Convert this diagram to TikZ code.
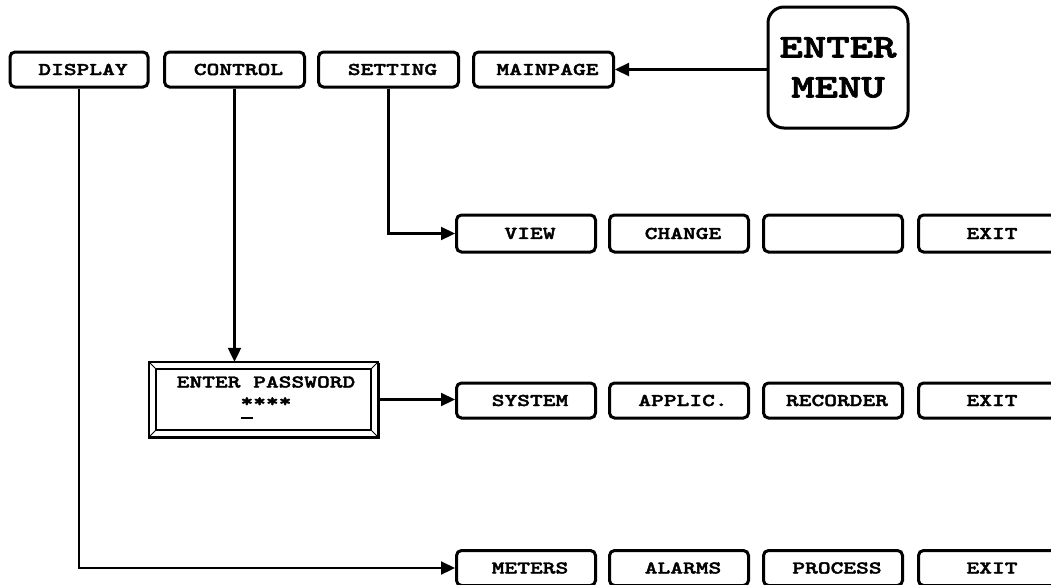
\documentclass[tikz,border=0pt]{standalone}
\usepackage{fontspec}
\newfontfamily\cour[Extension=.otf, FakeStretch=1.35, FakeBold=2.2]{lmmonolt10-bold}
\usetikzlibrary{arrows.meta,calc}
\tikzset{
  lbl/.style={font=\cour\fontsize{18}{20}\selectfont},
  btn/.style={draw, line width=3pt, rounded corners=5pt, minimum width=139pt, minimum height=35pt,
    inner sep=0pt, lbl, execute at begin node={\hspace*{8pt}}},
  conn/.style={line width=2.2pt, -{Triangle[length=14pt,width=13pt]}},
}
\begin{document}
\begin{tikzpicture}[x=1pt,y=-1pt]
\useasboundingbox (0,0) rectangle (1051,584);
% top row
\node[btn, minimum width=138pt] (display) at (79,69.5) {DISPLAY};
\node[btn, minimum width=140pt] (control) at (234.5,69.5) {CONTROL};
\node[btn, minimum width=140pt] (setting) at (388.5,69.5) {SETTING};
\node[btn, minimum width=140pt] (mainpage) at (543.5,69.5) {MAINPAGE};
\node[draw, line width=3pt, rounded corners=16pt, minimum width=140pt, minimum height=121pt,
  align=center, font=\cour\fontsize{33}{40}\selectfont] (menu) at (838,67.5) {ENTER\\MENU};
% row VIEW
\node[btn, minimum height=37pt] (view) at (526,233.5) {VIEW};
\node[btn, minimum height=37pt] (change) at (679,233.5) {CHANGE};
\node[btn, minimum height=37pt] (blank) at (833,233.5) {};
\node[btn, minimum height=37pt] (exita) at (988,233.5) {EXIT};
% row SYSTEM
\node[btn] (system) at (526,400.5) {SYSTEM};
\node[btn] (applic) at (679,400.5) {APPLIC.};
\node[btn] (recorder) at (833,400.5) {RECORDER};
\node[btn] (exitb) at (988,400.5) {EXIT};
% row METERS
\node[btn] (meters) at (526,568) {METERS};
\node[btn] (alarms) at (679,568) {ALARMS};
\node[btn] (process) at (833,568) {PROCESS};
\node[btn] (exitc) at (988,568) {EXIT};
% password frame
\node[minimum width=229pt, minimum height=75pt, inner sep=0pt] (pw) at (263.5,399.5) {};
\draw[line width=1.8pt] (pw.north west) rectangle (pw.south east);
\draw[line width=3pt] ([xshift=-0.9pt]pw.south west) -- (pw.south east) -- ([yshift=-0.9pt]pw.north east);
\draw[line width=1.8pt] ($(pw.north west)+(7,7)$) rectangle ($(pw.south east)+(-7,-7)$);
\draw[line width=1pt] (pw.north west) -- ++(7,7) (pw.north east) -- ++(-7,7)
  (pw.south west) -- ++(7,-7) (pw.south east) -- ++(-7,-7);
\node[lbl] (pwtext) at (266,382) {ENTER PASSWORD};
\node[lbl] (stars) at (266,402) {****};
\coordinate (ul1) at (241,418);
\coordinate (ul2) at (253,418);
\draw[line width=2.6pt] (ul1) -- (ul2);
% connectors
\draw[conn] (mainpage.east -| menu.west) -- (mainpage.east);
\draw[conn] (setting.south) |- (view.west);
\draw[conn] (control.south) -- (control.south |- pw.north);
\draw[conn] (pw.east) -- (pw.east -| system.west);
\draw[conn] (display.south) |- (meters.west);
\end{tikzpicture}
\end{document}
